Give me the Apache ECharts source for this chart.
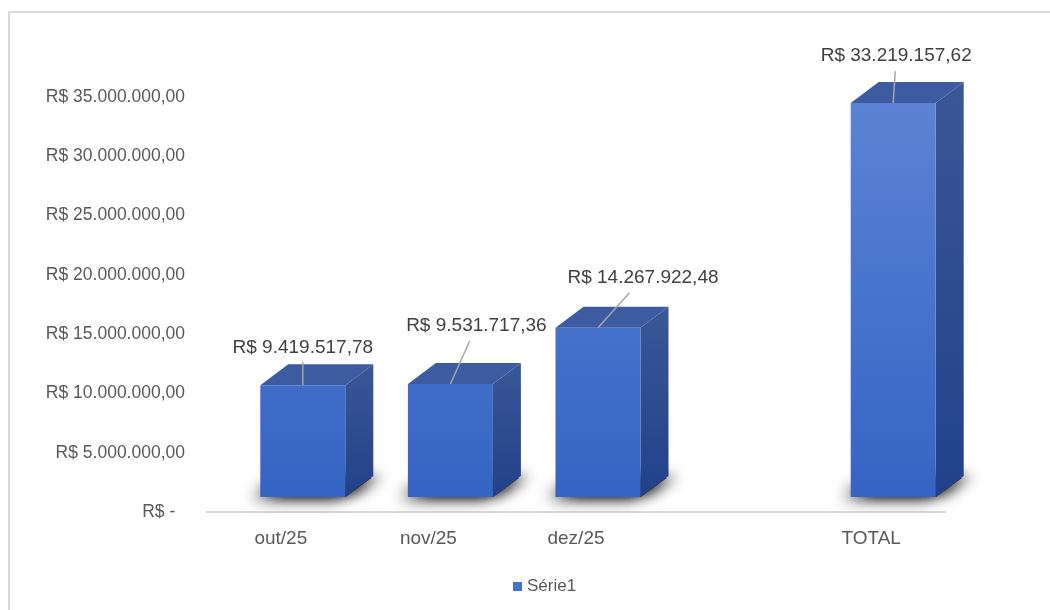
<!DOCTYPE html>
<html>
<head>
<meta charset="utf-8">
<script src="https://cdn.jsdelivr.net/npm/echarts@6/dist/echarts.min.js"></script>
<style>
  html, body { margin: 0; padding: 0; background: #fff; }
  #frame { position: absolute; left: 8px; top: 11px; width: 1060px; height: 620px;
           border-top: 2px solid #d9d9d9; border-left: 2px solid #d9d9d9; }
  #chart { position: absolute; left: 0; top: 0; width: 1050px; height: 610px; }
</style>
</head>
<body>
<div id="frame"></div>
<div id="chart"></div>
<script>
// categories (4th slot is the empty gap before TOTAL)
const categories = ['out/25', 'nov/25', 'dez/25', '', 'TOTAL']
const values = [9419517.78, 9531717.36, 14267922.48, null, 33219157.62]
const yTicks = [0, 5000000, 10000000, 15000000, 20000000, 25000000, 30000000, 35000000]

// label placement relative to the front top edge of each box
const labelShift = [[0, -38], [26, -58], [45, -50], [0, 0], [3, -47]]

const fmtBRL = (v) => 'R$ ' + v.toLocaleString('pt-BR', { minimumFractionDigits: 2, maximumFractionDigits: 2 })

const FONT = '"Liberation Sans", Arial, sans-serif'
const W = 85, SHIFT_X = 22, LIFT = 15, DX = 28, DY = -21

function renderBox(params, api) {
  const v = api.value(1)
  if (v == null || isNaN(v)) return null
  const idx = api.value(0)
  const top = api.coord([idx, v])
  const base = api.coord([idx, 0])
  const l = top[0] + SHIFT_X - W / 2, r = l + W
  const t = top[1] - LIFT, b = base[1] - LIFT
  const cx = (l + r) / 2
  const sh = labelShift[idx]
  const lx = cx + sh[0], ly = t + sh[1]
  const f = 15 / (t - ly)
  const foot = [[l + 2, b], [r, b], [r + DX - 2, b + DY + 2], [l + DX, b + DY + 2]]
  return {
    type: 'group',
    children: [
      { // soft floor shadow, left side
        type: 'polygon',
        shape: { points: foot },
        style: { fill: '#333', shadowBlur: 16, shadowColor: 'rgba(0,0,0,0.95)', shadowOffsetX: -9, shadowOffsetY: 1 }
      },
      { // soft floor shadow, right side
        type: 'polygon',
        shape: { points: foot },
        style: { fill: '#333', shadowBlur: 14, shadowColor: 'rgba(0,0,0,0.75)', shadowOffsetX: 10, shadowOffsetY: -2 }
      },
      {
        type: 'polygon',
        shape: { points: [[r, t], [r + DX, t + DY], [r + DX, b + DY], [r, b]] },
        style: { fill: { type: 'linear', x: 0, y: 0, x2: 0, y2: 1, colorStops: [
          { offset: 0, color: '#3a5796' }, { offset: 1, color: '#21418a' }] } }
      },
      {
        type: 'polygon',
        shape: { points: [[l, t], [r, t], [r + DX, t + DY], [l + DX, t + DY]] },
        style: { fill: '#3d5ba0' }
      },
      {
        type: 'rect',
        shape: { x: l, y: t, width: W, height: b - t },
        style: { fill: { type: 'linear', global: true, x: 0, y: 100, x2: 0, y2: 497, colorStops: [
          { offset: 0, color: '#5c83d5' }, { offset: 1, color: '#3464c4' }] } }
      },
      {
        type: 'line',
        shape: { x1: lx + (cx - lx) * f, y1: ly + 15, x2: cx, y2: t },
        style: { stroke: '#a6a6a6', lineWidth: 1.5 }
      },
      {
        type: 'text',
        x: lx, y: ly,
        style: { text: fmtBRL(v), fill: '#404040', font: '19px ' + FONT, align: 'center', verticalAlign: 'middle' }
      }
    ]
  }
}

const chart = echarts.init(document.getElementById('chart'))
chart.setOption({
  animation: false,
  grid: { left: 207, right: 105, top: 97, bottom: 98 },
  legend: {
    data: ['Série1'], top: 573, left: 508, icon: 'rect', itemWidth: 9, itemHeight: 9, itemGap: 4,
    textStyle: { color: '#595959', fontSize: 17, fontFamily: FONT }
  },
  xAxis: {
    type: 'category', data: categories,
    axisLine: { lineStyle: { color: '#d9d9d9', width: 2 } },
    axisTick: { show: false },
    axisLabel: { color: '#595959', fontSize: 19, fontFamily: FONT, margin: 17 }
  },
  yAxis: {
    type: 'value', min: 0, max: yTicks[yTicks.length - 1], interval: yTicks[1] - yTicks[0],
    splitLine: { show: false }, axisLine: { show: false }, axisTick: { show: false },
    axisLabel: {
      color: '#595959', fontSize: 17.5, fontFamily: FONT, margin: 22,
      formatter: (v) => v === 0 ? 'R$ -  ' : fmtBRL(v)
    }
  },
  series: [{
    name: 'Série1', type: 'custom', clip: false,
    itemStyle: { color: '#4472c4' },
    renderItem: renderBox,
    data: values.map((v, i) => [i, v == null ? NaN : v])
  }]
})
</script>
</body>
</html>
